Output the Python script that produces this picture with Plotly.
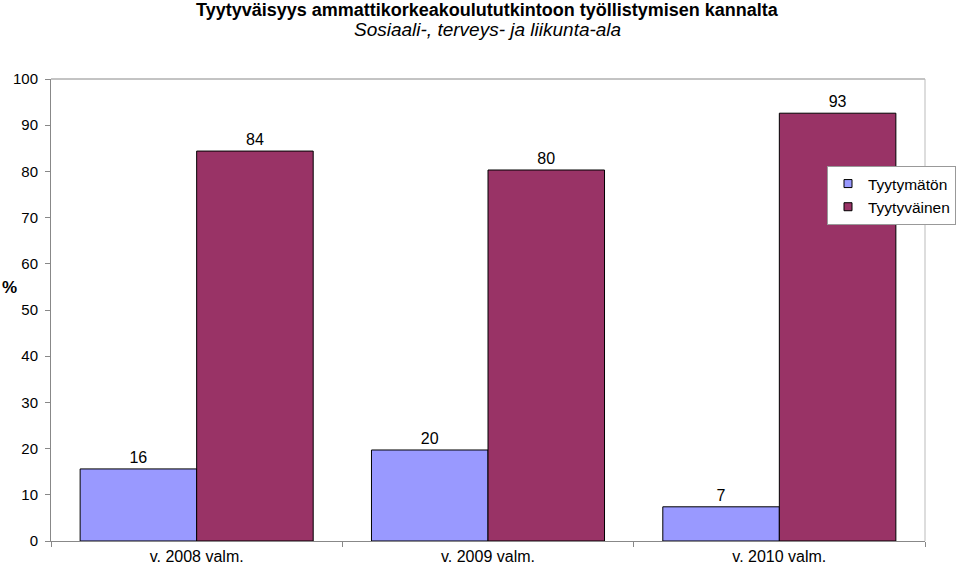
import plotly.graph_objects as go

categories = ["v. 2008 valm.", "v. 2009 valm.", "v. 2010 valm."]
tyytymaton = [15.6, 19.7, 7.4]
tyytyvainen = [84.4, 80.3, 92.6]
yticks = [0, 10, 20, 30, 40, 50, 60, 70, 80, 90, 100]
blue = "#9999FF"
red = "#993366"

font = "Liberation Sans, Arial, sans-serif"
W, H = 959, 566
L, R_PLOT, T, B = 51, 925, 79, 25
paper_w = W - L
dom_end = (R_PLOT - L) / paper_w

fig = go.Figure()
fig.add_trace(go.Bar(x=categories, y=tyytymaton, name="Tyytymätön", showlegend=False,
                     marker=dict(color=blue, line=dict(color="black", width=1)),
                     text=tyytymaton, texttemplate="%{y:.0f}", textposition="outside",
                     textfont=dict(size=16, color="black"), cliponaxis=False))
fig.add_trace(go.Bar(x=categories, y=tyytyvainen, name="Tyytyväinen", showlegend=False,
                     marker=dict(color=red, line=dict(color="black", width=1)),
                     text=tyytyvainen, texttemplate="%{y:.0f}", textposition="outside",
                     textfont=dict(size=16, color="black"), cliponaxis=False))
for nm, col in [("Tyytymätön", blue), ("Tyytyväinen", red)]:
    fig.add_trace(go.Scatter(x=[None], y=[None], mode="markers", name=nm,
                             marker=dict(symbol="square", size=8, color=col,
                                         line=dict(color="black", width=1))))

fig.update_layout(
    width=W, height=H,
    margin=dict(l=L, r=0, t=T, b=B, pad=0),
    paper_bgcolor="white", plot_bgcolor="white",
    font=dict(family=font, size=15, color="black"),
    barmode="group", bargap=0.2, bargroupgap=0,
    showlegend=True,
    legend=dict(x=(956 - L) / paper_w, y=1 - (166 - T) / (H - T - B), xanchor="right", yanchor="top",
                bordercolor="#999999", borderwidth=1, bgcolor="white",
                font=dict(size=15.5), itemwidth=30, tracegroupgap=0),
)
fig.add_annotation(text="<b>Tyytyväisyys ammattikorkeakoulututkintoon työllistymisen kannalta</b>",
                   xref="paper", yref="paper", x=(487 - L) / paper_w, y=1.0, yshift=T - 10,
                   xanchor="center", yanchor="middle", showarrow=False, font=dict(size=18))
fig.add_annotation(text="<i>Sosiaali-, terveys- ja liikunta-ala</i>",
                   xref="paper", yref="paper", x=(487 - L) / paper_w, y=1.0, yshift=T - 29,
                   xanchor="center", yanchor="middle", showarrow=False, font=dict(size=19))
fig.add_annotation(text="<b>%</b>", xref="paper", yref="paper", x=0, xshift=-42,
                   y=1 - (287 - T) / (H - T - B),
                   xanchor="center", yanchor="middle", showarrow=False, font=dict(size=17))
fig.update_yaxes(range=[0, 100], tickvals=yticks, showgrid=False, showline=True,
                 linecolor="#888888", linewidth=1, ticks="outside", ticklen=5,
                 tickcolor="#888888", zeroline=False, ticklabelstandoff=4,
                 tickfont=dict(size=15), automargin=False)
fig.update_xaxes(domain=[0, dom_end], showline=True, linecolor="#888888", linewidth=1,
                 ticks="outside", tickson="boundaries", ticklen=5, tickcolor="#888888",
                 showgrid=False, tickfont=dict(size=16), ticklabelstandoff=1,
                 automargin=False)
fig.add_shape(type="line", xref="x domain", yref="paper", x0=0, x1=1, y0=1, y1=1,
              line=dict(color="#888888", width=1))
fig.add_shape(type="line", xref="x domain", yref="paper", x0=1, x1=1, y0=0, y1=1,
              line=dict(color="#bbbbbb", width=1))
fig.write_html("out.html")
